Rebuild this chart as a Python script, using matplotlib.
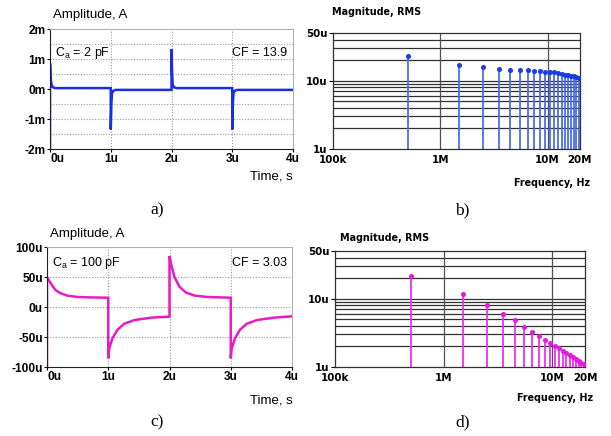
import matplotlib
matplotlib.use("Agg")
import matplotlib.pyplot as plt
from matplotlib import font_manager

W, H = 611, 436

# ---- time domain, C_a = 2 pF (t in us, i in mA)
t_a = [0, 0, 0.01, 0.02, 0.04, 0.08, 1.0, 1.0, 1.01, 1.02, 1.04, 1.08,
       2.0, 2.0, 2.01, 2.02, 2.04, 2.08, 3.0, 3.0, 3.01, 3.02, 3.04, 3.08, 4.0]
i_a = [-2.0, 0.86, 0.45, 0.2, 0.07, 0.03, 0.03, -1.35, -0.5, -0.15, -0.06, -0.03,
       -0.03, 1.32, 0.5, 0.15, 0.06, 0.03, 0.03, -1.35, -0.5, -0.15, -0.06, -0.03, -0.03]

# ---- time domain, C_a = 100 pF (t in us, i in uA)
t_c = [0, 0, 0.06, 0.14, 0.22, 0.33, 0.5, 0.7, 1.0,
       1.0, 1.016, 1.07, 1.15, 1.26, 1.43, 1.7, 2.0,
       2.0, 2.03, 2.08, 2.16, 2.27, 2.41, 2.62, 3.0,
       3.0, 3.016, 3.07, 3.15, 3.26, 3.43, 3.7, 4.0]
i_c = [-100, 50, 39.5, 28, 23, 19, 16.7, 16, 15.5,
       -85.5, -69, -52, -38, -28, -21.7, -17.8, -16,
       85, 70, 50.5, 34, 24, 19, 16.7, 15.5,
       -85.5, -69, -52, -38, -28, -21.7, -17.8, -15.5]

# ---- spectra: odd harmonics of 500 kHz (Hz), RMS magnitude in uA
freq = [0.5e6, 1.5e6, 2.5e6, 3.5e6, 4.5e6, 5.5e6, 6.5e6, 7.5e6, 8.5e6, 9.5e6,
        10.5e6, 11.5e6, 12.5e6, 13.5e6, 14.5e6, 15.5e6, 16.5e6, 17.5e6, 18.5e6, 19.5e6]
mag_b = [23.3, 17.0, 15.7, 14.8, 14.5, 14.2, 14.2, 13.9, 13.9, 13.5,
         13.4, 13.2, 12.9, 12.6, 12.2, 12.1, 11.8, 11.6, 11.2, 10.8]
mag_d = [21.2, 11.8, 8.0, 6.0, 4.8, 3.85, 3.3, 2.8, 2.5, 2.25,
         2.05, 1.9, 1.71, 1.6, 1.48, 1.38, 1.3, 1.21, 1.14, 1.09]

# narrow font for the time plots if there is one, else Arial metrics
_names = {f.name for f in font_manager.fontManager.ttflist}
if "Liberation Sans Narrow" in _names:
    NARROW, NSCALE = ["Liberation Sans Narrow", "DejaVu Sans"], 1.18
else:
    NARROW, NSCALE = ["Liberation Sans", "DejaVu Sans"], 1.0
VERD = ["DejaVu Sans"]


def px_axes(fig, l, t, r, b):
    return fig.add_axes([l / W, (H - b) / H, (r - l) / W, (b - t) / H])


def ftext(fig, x, y, s, **kw):
    fig.text(x / W, (H - y) / H, s, va="center", **kw)


def time_panel(fig, box, t, i, color, ylim, yticks, ylabels, ygrid):
    ax = px_axes(fig, *box)
    ax.plot(t, i, color=color, lw=1.8, solid_joinstyle="miter")
    ax.set_xlim(0, 4)
    ax.set_ylim(*ylim)
    for x in [1, 2, 3]:
        ax.axvline(x, color="#9a9a9a", lw=0.8, ls=(0, (1, 1.5)), zorder=0)
    for y in ygrid:
        ax.axhline(y, color="#9a9a9a", lw=0.8, ls=(0, (1, 1.5)), zorder=0)
    ax.set_yticks(yticks)
    ax.set_yticklabels(ylabels)
    ax.set_xticks([0, 1, 2, 3, 4])
    ax.set_xticklabels(["0u", "1u", "2u", "3u", "4u"])
    ax.get_xticklabels()[0].set_horizontalalignment("left")
    for lab in ax.get_xticklabels() + ax.get_yticklabels():
        lab.set_family(NARROW)
        lab.set_fontweight("bold")
        lab.set_fontsize(8.6 * NSCALE)
    ax.tick_params(length=2, width=0.8, pad=1)
    for s in ["top", "right"]:
        ax.spines[s].set_color("#b0b0b0")
    for s in ["left", "bottom"]:
        ax.spines[s].set_color("#202020")
    return ax


def spec_panel(fig, box, mag, lcolor, mcolor):
    ax = px_axes(fig, *box)
    ax.set_xscale("log")
    ax.set_yscale("log")
    ax.set_xlim(1e5, 2e7)
    ax.set_ylim(1, 50)
    for y in [2, 3, 4, 5, 6, 7, 8, 9, 10, 20, 30, 40]:
        ax.axhline(y, color="#303030", lw=0.9, zorder=0)
    for x in [1e6, 1e7]:
        ax.axvline(x, color="#505050", lw=0.9, zorder=0)
    ax.vlines(freq, 1, mag, color=lcolor, lw=1.3, zorder=2)
    ax.plot(freq, mag, "o", ms=2.6, color=mcolor, zorder=3)
    ax.set_xticks([1e5, 1e6, 1e7, 2e7])
    ax.set_xticklabels(["100k", "1M", "10M", "20M"])
    ax.set_yticks([1, 10, 50])
    ax.set_yticklabels(["1u", "10u", "50u"])
    ax.minorticks_off()
    ax.tick_params(axis="x", length=0, pad=4)
    ax.tick_params(axis="y", length=3, width=0.8, pad=1)
    for lab in ax.get_xticklabels() + ax.get_yticklabels():
        lab.set_family(VERD)
        lab.set_fontweight("bold")
        lab.set_fontsize(7.4)
    for s in ax.spines.values():
        s.set_color("#303030")
        s.set_linewidth(0.9)
    return ax


fig = plt.figure(figsize=(W / 100, H / 100), dpi=100)
tsz = 9.5 * NSCALE
asz = 9.0 * NSCALE

# a)
time_panel(fig, (50, 29, 293, 149), t_a, i_a, "#1a2ee6", (-2, 2),
           [-2, -1, 0, 1, 2], ["-2m", "-1m", "0m", "1m", "2m"],
           [-1.5, -1, -0.5, 0.5, 1, 1.5])
ftext(fig, 53, 15, "Amplitude, A", family=NARROW, fontsize=tsz)
ftext(fig, 55, 53, r"C$_\mathregular{a}$ = 2 pF", family=NARROW, fontsize=asz)
ftext(fig, 287, 53, "CF = 13.9", family=NARROW, fontsize=asz, ha="right")
ftext(fig, 293, 176, "Time, s", family=NARROW, fontsize=tsz, ha="right")

# b)
spec_panel(fig, (333, 33, 580, 149), mag_b, "#4a6ee8", "#1a3ce6")
ftext(fig, 332, 12, "Magnitude, RMS", family=VERD, fontsize=6.9, fontweight="bold")
ftext(fig, 590, 183, "Frequency, Hz", family=VERD, fontsize=6.9, fontweight="bold", ha="right")

# c)
time_panel(fig, (47, 247, 292, 367), t_c, i_c, "#e81cc4", (-100, 100),
           [-100, -50, 0, 50, 100], ["-100u", "-50u", "0u", "50u", "100u"],
           [-50, 0, 50])
ftext(fig, 50, 234, "Amplitude, A", family=NARROW, fontsize=tsz)
ftext(fig, 52, 263, r"C$_\mathregular{a}$ = 100 pF", family=NARROW, fontsize=asz)
ftext(fig, 287, 263, "CF = 3.03", family=NARROW, fontsize=asz, ha="right")
ftext(fig, 293, 400, "Time, s", family=NARROW, fontsize=tsz, ha="right")

# d)
spec_panel(fig, (335, 251, 585, 367), mag_d, "#f030f0", "#e818e0")
ftext(fig, 340, 238, "Magnitude, RMS", family=VERD, fontsize=6.9, fontweight="bold")
ftext(fig, 593, 398, "Frequency, Hz", family=VERD, fontsize=6.9, fontweight="bold", ha="right")

# sub-figure letters
for x, y, s in [(157, 210, "a)"), (462, 210, "b)"), (157, 422, "c)"), (463, 422, "d)")]:
    ftext(fig, x, y, s, family=["Liberation Serif"], fontsize=12.5, ha="center")

fig.savefig("out.png", dpi=100)
